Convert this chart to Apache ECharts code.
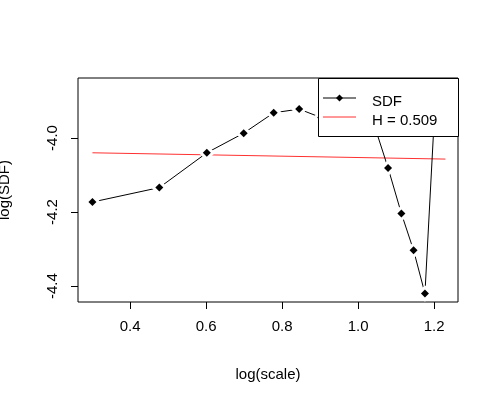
<!DOCTYPE html><html><head><script src="https://cdn.jsdelivr.net/npm/echarts@6/dist/echarts.min.js"></script></head><body style="margin:0"><div id="c" style="width:500px;height:400px"></div><script>
const logScale=[0.301,0.477,0.602,0.699,0.778,0.845,0.903,0.954,1.0,1.041,1.079,1.114,1.146,1.176,1.204];
const logSDF=[-4.173,-4.134,-4.04,-3.987,-3.932,-3.922,-3.945,-3.96,-3.95,-3.96,-4.081,-4.204,-4.303,-4.42,-3.88];
const fitX=[0.301,1.230];
const fitY=[-4.04,-4.057];
const xTicks=[0.4,0.6,0.8,1.0,1.2];
const yTicks=[-4.0,-4.2,-4.4];
const font='Liberation Sans, Arial, sans-serif';
const c=echarts.init(document.getElementById('c'));
c.setOption({animation:false,
grid:{left:78,right:42,top:78,bottom:98,containLabel:false,outerBoundsMode:'none',show:true,borderColor:'#000',borderWidth:1},
xAxis:{type:'value',min:0.263,max:1.263,axisLine:{show:false},splitLine:{show:false},
 axisTick:{show:true,customValues:xTicks,length:7,lineStyle:{color:'#000'}},
 axisLabel:{customValues:xTicks,formatter:v=>v.toFixed(1),color:'#000',fontSize:15,fontFamily:font,margin:12},
 name:'log(scale)',nameLocation:'middle',nameGap:60,nameTextStyle:{color:'#000',fontSize:15,fontFamily:font}},
yAxis:{type:'value',min:-4.443,max:-3.838,axisLine:{show:false},splitLine:{show:false},
 axisTick:{show:true,customValues:yTicks,length:7,lineStyle:{color:'#000'}},
 axisLabel:{customValues:yTicks,formatter:v=>v.toFixed(1),rotate:90,color:'#000',fontSize:15,fontFamily:font,margin:12},
 name:'log(SDF)',nameLocation:'middle',nameGap:60,nameTextStyle:{color:'#000',fontSize:15,fontFamily:font}},
series:[
{type:'line',data:logScale.map((x,i)=>[x,logSDF[i]]),symbol:'diamond',symbolSize:8,
 itemStyle:{color:'#000',borderColor:'#fff',borderWidth:6},lineStyle:{color:'#000',width:1},z:2},
{type:'line',data:logScale.map((x,i)=>[x,logSDF[i]]),symbol:'diamond',symbolSize:8,
 itemStyle:{color:'#000'},lineStyle:{opacity:0},z:3},
{type:'line',data:fitX.map((x,i)=>[x,fitY[i]]),symbol:'none',lineStyle:{color:'#ff3030',width:1},z:1}
],
graphic:[
{type:'rect',left:318,top:78,shape:{width:140,height:58},style:{fill:'#fff',stroke:'#000',lineWidth:1},z:100},
{type:'line',shape:{x1:323,y1:98,x2:356,y2:98},style:{stroke:'#000',lineWidth:1},z:101},
{type:'polygon',shape:{points:[[339.5,94.5],[343,98],[339.5,101.5],[336,98]]},style:{fill:'#000'},z:102},
{type:'line',shape:{x1:323,y1:117,x2:356,y2:117},style:{stroke:'#ff3030',lineWidth:1},z:101},
{type:'text',left:372,top:89,style:{text:'SDF',font:'15px '+font,fill:'#000'},z:101},
{type:'text',left:372,top:108,style:{text:'H = 0.509',font:'15px '+font,fill:'#000'},z:101}
]});
</script></body></html>
